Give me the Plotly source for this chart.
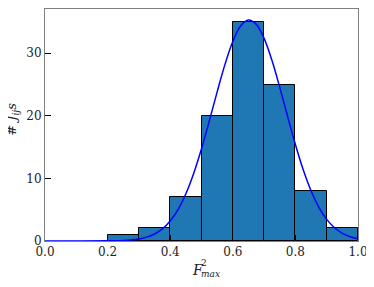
import plotly.graph_objects as go

bin_left = [0.2, 0.3, 0.4, 0.5, 0.6, 0.7, 0.8, 0.9]
counts = [1, 2, 7, 20, 35, 25, 8, 2]
bin_width = 0.1

fit_x = [0.0, 0.2, 0.25, 0.3, 0.325, 0.35, 0.375, 0.4, 0.425, 0.45, 0.475, 0.5,
         0.525, 0.55, 0.575, 0.6, 0.625, 0.65, 0.675, 0.7, 0.725, 0.75, 0.775,
         0.8, 0.825, 0.85, 0.875, 0.9, 0.925, 0.95, 0.975, 1.0]
fit_y = [0.0, 0.02, 0.08, 0.33, 0.62, 1.12, 1.94, 3.2, 5.03, 7.55, 10.8, 14.74,
         19.19, 23.82, 28.21, 31.87, 34.34, 35.3, 34.6, 32.36, 28.86, 24.55, 19.92,
         15.42, 11.38, 8.02, 5.39, 3.45, 2.11, 1.23, 0.68, 0.36]

font = "DejaVu Serif"

# page has an 8px body margin; figure sized to fill the rest of the window
W, H = 366, 279
L, R, T, B = 36.5, 16, 0.5, 46
PW, PH = W - L - R, H - T - B


def px(x):
    return (x - 8 - L) / PW


def py(y):
    return (T + PH - (y - 8)) / PH


fig = go.Figure()
fig.add_trace(go.Bar(
    x=[b + bin_width / 2 for b in bin_left], y=counts, width=bin_width,
    marker=dict(color="#1f77b4", line=dict(color="black", width=1)),
    showlegend=False))
fig.add_trace(go.Scatter(
    x=fit_x, y=fit_y, mode="lines", line=dict(color="blue", width=1.5, shape="spline"),
    showlegend=False))

ann = dict(xref="paper", yref="paper", showarrow=False)
fig.update_layout(
    width=W, height=H,
    margin=dict(l=L, r=R, t=T, b=B, autoexpand=False),
    plot_bgcolor="white", paper_bgcolor="white",
    font=dict(family=font, size=12, color="#222222"),
    bargap=0,
    xaxis=dict(range=[0, 1], tickvals=[0, 0.2, 0.4, 0.6, 0.8, 1.0],
               ticktext=["0.0", "0.2", "0.4", "0.6", "0.8", "1.0"],
               ticks="inside", ticklen=6, tickcolor="black",
               showline=True, linecolor="#808080", linewidth=1, mirror=True,
               showgrid=False, zeroline=False, automargin=False),
    yaxis=dict(range=[0, 37.06], tickvals=[0, 10, 20, 30],
               ticks="inside", ticklen=6, tickcolor="black",
               showline=True, linecolor="#808080", linewidth=1, mirror=True,
               showgrid=False, zeroline=False, automargin=False),
    annotations=[
        dict(text="<i>F</i>", x=px(198), y=py(270), xanchor="center", yanchor="middle",
             font=dict(size=14, family=font), **ann),
        dict(text="2", x=px(203.5), y=py(263.5), xanchor="center", yanchor="middle",
             font=dict(size=9, family=font), **ann),
        dict(text="<i>max</i>", x=px(210), y=py(274), xanchor="center", yanchor="middle",
             font=dict(size=9, family=font), **ann),
        dict(text="# <i>J<sub>ij</sub>s</i>", x=px(12), y=py(119), xanchor="center",
             yanchor="middle", textangle=-90, font=dict(size=13, family=font), **ann),
    ],
)

fig.write_html("out.html")
